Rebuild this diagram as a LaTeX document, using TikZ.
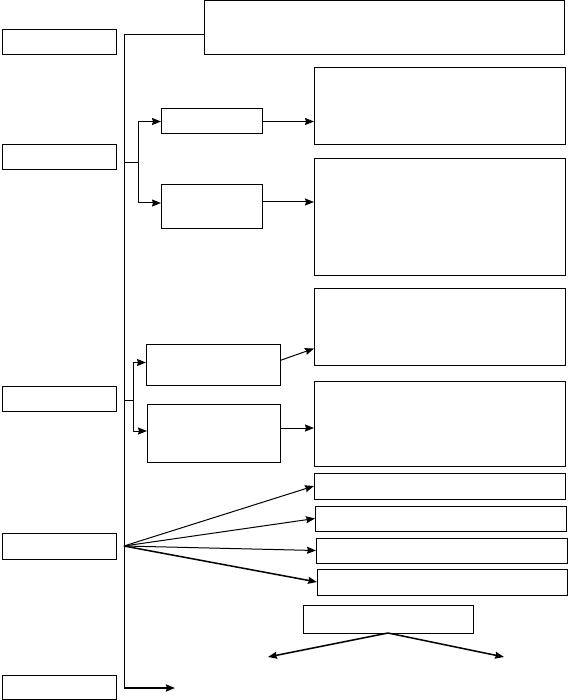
\documentclass[tikz,border=0pt]{standalone}
\usetikzlibrary{positioning,arrows,arrows.meta}

\begin{document}
\begin{tikzpicture}[x=1pt, y=-1pt, >={Stealth[length=9pt, width=7pt, inset=1pt]}, line width=1pt,
    box/.style={rectangle, draw, inner sep=0pt, outer sep=0pt, anchor=north west}]
    \useasboundingbox (0,0) rectangle (568,700);

    % left column
    \node[box, minimum width=114pt, minimum height=25pt] (sec1) at (2,30) {};
    \node[box, minimum width=114pt, minimum height=25pt] (sec2) at (2,145) {};
    \node[box, minimum width=114pt, minimum height=25pt] (sec3) at (2,386) {};
    \node[box, minimum width=114pt, minimum height=26pt] (sec4) at (2,533) {};
    \node[box, minimum width=114pt, minimum height=24pt] (sec5) at (2,675) {};

    % top box
    \node[box, minimum width=360pt, minimum height=54pt] (head) at (204,1) {};

    % first branch
    \node[box, minimum width=101pt, minimum height=25pt] (sub1) at (161,109) {};
    \node[box, minimum width=101pt, minimum height=44pt] (sub2) at (161,185) {};
    \node[box, minimum width=251pt, minimum height=77pt] (res1) at (314,68) {};
    \node[box, minimum width=251pt, minimum height=116pt] (res2) at (314,159) {};

    % second branch
    \node[box, minimum width=134pt, minimum height=41pt] (sub3) at (146,344) {};
    \node[box, minimum width=133pt, minimum height=58pt] (sub4) at (147,404) {};
    \node[box, minimum width=251pt, minimum height=77pt] (res3) at (314,288) {};
    \node[box, minimum width=251pt, minimum height=85pt] (res4) at (314,381) {};

    % fan
    \node[box, minimum width=251pt, minimum height=26pt] (opt1) at (314,473) {};
    \node[box, minimum width=251pt, minimum height=25pt] (opt2) at (315,506) {};
    \node[box, minimum width=251pt, minimum height=25pt] (opt3) at (316,538) {};
    \node[box, minimum width=250pt, minimum height=26pt] (opt4) at (317,569) {};
    \node[box, minimum width=170pt, minimum height=28pt] (split) at (303,605) {};

    % trunk
    \coordinate (top) at (124,35);
    \coordinate (bot) at (124,688);
    \coordinate (j1) at (124,163);
    \coordinate (k1) at (138,163);
    \coordinate (j2) at (124,400);
    \coordinate (k2) at (133,400);
    \coordinate (fan) at (124,546);
    \coordinate (end) at (175,688);
    \coordinate (lft) at (268,657);
    \coordinate (rgt) at (504,657);

    \draw (top -| head.west) -- (top) -- (bot);
    \draw[->, line width=2pt] (bot) -- (end);

    \draw (j1) -- (k1);
    \draw[->] (k1) |- (sub1.west);
    \draw[->] (k1) |- ([yshift=4pt]sub2.west);
    \draw[->] (sub1.east) -- (sub1.east -| res1.west);
    \draw[->] ([yshift=5pt]sub2.east) -- ([yshift=5pt]sub2.east -| res2.west);

    \draw (j2) -- (k2);
    \draw[->] (k2) |- ([yshift=2pt]sub3.west);
    \draw[->] (k2) |- ([yshift=2pt]sub4.west);
    \draw[->] ([yshift=4pt]sub3.east) -- ([yshift=-22pt]res3.west);
    \draw[->] ([yshift=5pt]sub4.east) -- ([yshift=5pt]sub4.east -| res4.west);

    \draw[->] (fan) -- (opt1.west);
    \draw[->] (fan) -- (opt2.west);
    \draw[->] (fan) -- (opt3.west);
    \draw[->, line width=1.5pt] (fan) -- (opt4.west);

    \draw[->, line width=1.5pt] (split.south) -- (lft);
    \draw[->, line width=1.5pt] (split.south) -- (rgt);
\end{tikzpicture}
\end{document}
